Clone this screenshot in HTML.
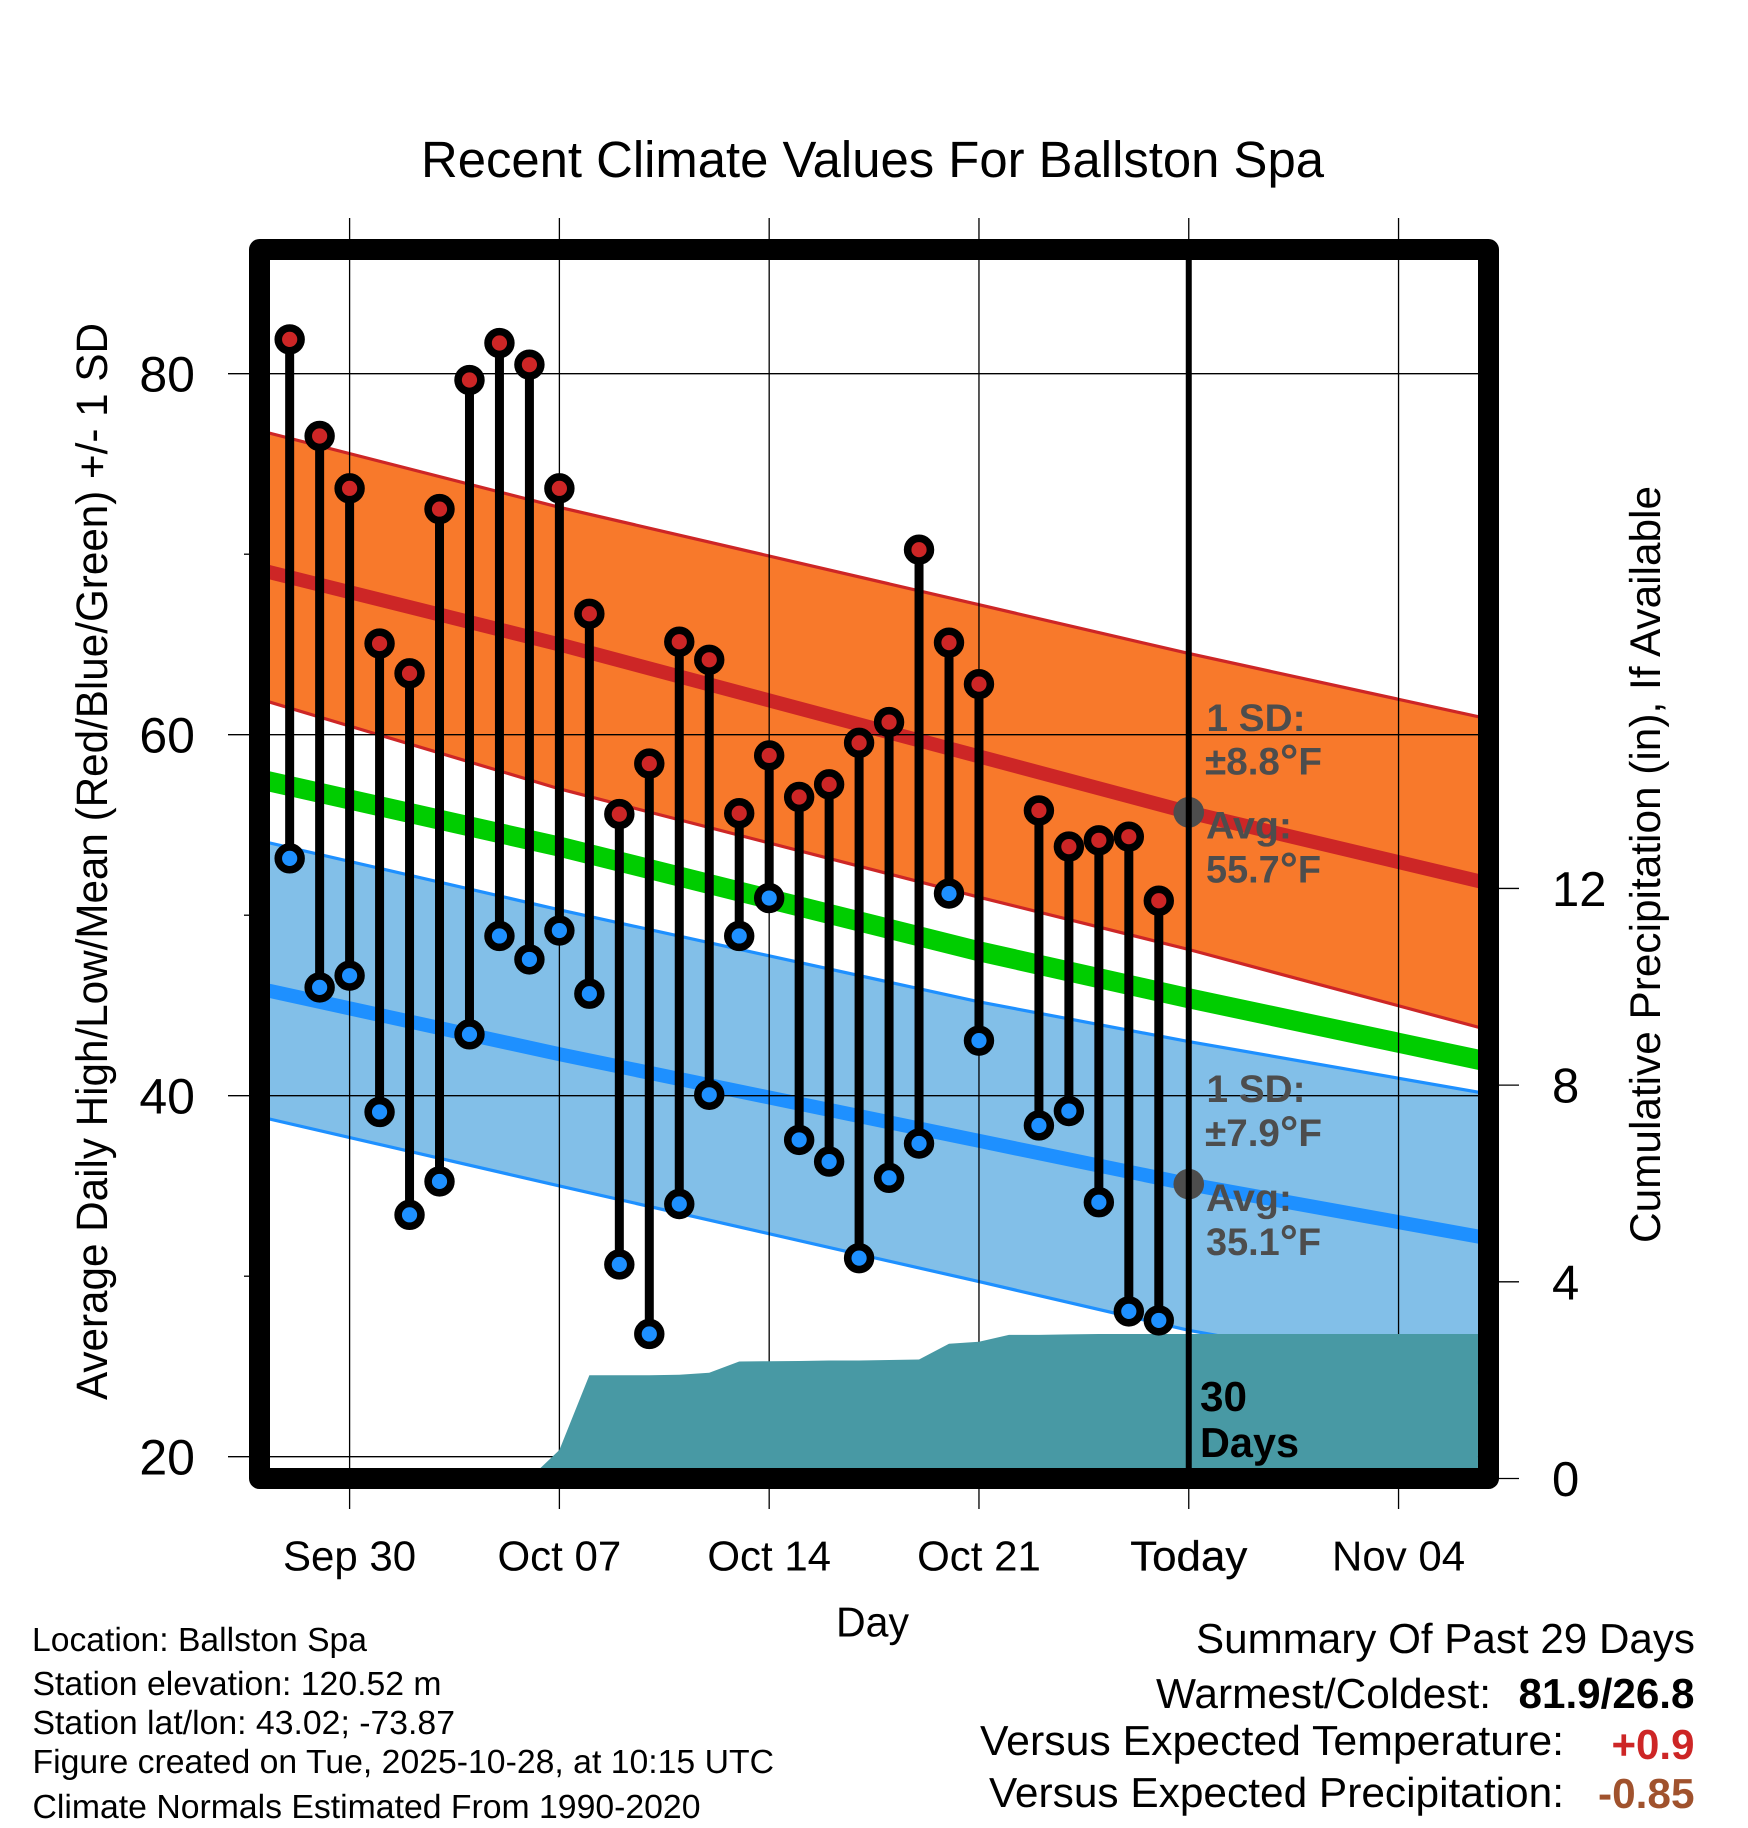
<!DOCTYPE html>
<html lang="en">
<head>
<meta charset="utf-8">
<title>Recent Climate Values For Ballston Spa</title>
<style>
html,body{margin:0;padding:0;background:#fff;width:1748px;height:1828px;overflow:hidden}
svg{display:block}
text{font-family:"Liberation Sans",sans-serif;fill:#000;text-rendering:geometricPrecision}
.ann{font-weight:bold;font-size:38.5px;fill:#4d4d4d}
.foot{font-size:33.5px}
.sum{font-size:42px}
</style>
</head>
<body>
<svg id="chart" xmlns="http://www.w3.org/2000/svg" width="1748" height="1828" viewBox="0 0 1748 1828">
  <defs><clipPath id="plot-clip"><rect x="270" y="260" width="1208" height="1208"/></clipPath></defs>
  <g id="fills" clip-path="url(#plot-clip)"></g>
  <g id="grid"></g>
  <g id="precip" clip-path="url(#plot-clip)"></g>
  <g id="today"></g>
  <g id="marks"></g>
  <rect x="259.5" y="249.5" width="1229" height="1229" fill="none" stroke="#000" stroke-width="21" stroke-linejoin="round"/>
  <g id="labels"></g>

  <text x="421" y="177" font-size="51" textLength="903" lengthAdjust="spacingAndGlyphs">Recent Climate Values For Ballston Spa</text>
  <text transform="translate(107,1400) rotate(-90)" font-size="44" textLength="1077" lengthAdjust="spacingAndGlyphs">Average Daily High/Low/Mean (Red/Blue/Green) +/- 1 SD</text>
  <text transform="translate(1660,1243) rotate(-90)" font-size="43" textLength="757" lengthAdjust="spacingAndGlyphs">Cumulative Precipitation (in), If Available</text>
  <text x="836" y="1636.5" font-size="42" textLength="73" lengthAdjust="spacingAndGlyphs">Day</text>

  <text class="ann" x="1206.5" y="731" textLength="99" lengthAdjust="spacingAndGlyphs">1 SD:</text>
  <text class="ann" x="1205" y="774.5" textLength="117" lengthAdjust="spacingAndGlyphs">±8.8<tspan font-size="46" dy="2">°</tspan><tspan dy="-2">F</tspan></text>
  <text class="ann" x="1206" y="838.5" textLength="86" lengthAdjust="spacingAndGlyphs">Avg:</text>
  <text class="ann" x="1206" y="882.5" textLength="115" lengthAdjust="spacingAndGlyphs">55.7<tspan font-size="46" dy="2">°</tspan><tspan dy="-2">F</tspan></text>
  <text class="ann" x="1206.5" y="1102" textLength="99" lengthAdjust="spacingAndGlyphs">1 SD:</text>
  <text class="ann" x="1205" y="1146" textLength="117" lengthAdjust="spacingAndGlyphs">±7.9<tspan font-size="46" dy="2">°</tspan><tspan dy="-2">F</tspan></text>
  <text class="ann" x="1206" y="1211" textLength="86" lengthAdjust="spacingAndGlyphs">Avg:</text>
  <text class="ann" x="1206" y="1255" textLength="115" lengthAdjust="spacingAndGlyphs">35.1<tspan font-size="46" dy="2">°</tspan><tspan dy="-2">F</tspan></text>
  <text x="1200" y="1411" font-size="42" font-weight="bold" textLength="47" lengthAdjust="spacingAndGlyphs">30</text>
  <text x="1200" y="1457" font-size="42" font-weight="bold" textLength="99" lengthAdjust="spacingAndGlyphs">Days</text>

  <text class="foot" x="32" y="1651" textLength="335" lengthAdjust="spacingAndGlyphs">Location: Ballston Spa</text>
  <text class="foot" x="32.5" y="1695" textLength="409" lengthAdjust="spacingAndGlyphs">Station elevation: 120.52 m</text>
  <text class="foot" x="32.5" y="1734" textLength="422.5" lengthAdjust="spacingAndGlyphs">Station lat/lon: 43.02; -73.87</text>
  <text class="foot" x="32.5" y="1773" textLength="741.5" lengthAdjust="spacingAndGlyphs">Figure created on Tue, 2025-10-28, at 10:15 UTC</text>
  <text class="foot" x="32.5" y="1818" textLength="668" lengthAdjust="spacingAndGlyphs">Climate Normals Estimated From 1990-2020</text>

  <text class="sum" x="1196" y="1653" textLength="499" lengthAdjust="spacingAndGlyphs">Summary Of Past 29 Days</text>
  <text class="sum" x="1156" y="1708" textLength="335" lengthAdjust="spacingAndGlyphs">Warmest/Coldest:</text>
  <text class="sum" x="1518.5" y="1708" font-weight="bold" textLength="176" lengthAdjust="spacingAndGlyphs">81.9/26.8</text>
  <text class="sum" x="980" y="1755" textLength="584" lengthAdjust="spacingAndGlyphs">Versus Expected Temperature:</text>
  <text class="sum" x="1611.5" y="1759" font-weight="bold" style="fill:#cd2626" textLength="83" lengthAdjust="spacingAndGlyphs">+0.9</text>
  <text class="sum" x="989" y="1807" textLength="575" lengthAdjust="spacingAndGlyphs">Versus Expected Precipitation:</text>
  <text class="sum" x="1598" y="1808" font-weight="bold" style="fill:#a0522d" textLength="96.5" lengthAdjust="spacingAndGlyphs">-0.85</text>
</svg>

<script>
// Observed days, index 0 = Sep 28 (index 24 = Oct 22 has no observation)
const dayLabels = ['Sep 28','Sep 29','Sep 30','Oct 01','Oct 02','Oct 03','Oct 04','Oct 05','Oct 06','Oct 07','Oct 08','Oct 09','Oct 10','Oct 11','Oct 12','Oct 13','Oct 14','Oct 15','Oct 16','Oct 17','Oct 18','Oct 19','Oct 20','Oct 21','Oct 22','Oct 23','Oct 24','Oct 25','Oct 26','Oct 27'];
const dailyHigh = [81.9,76.55,73.65,65.05,63.4,72.5,79.65,81.7,80.5,73.65,66.7,55.6,58.4,65.15,64.15,55.65,58.85,56.55,57.25,59.55,60.7,70.25,65.1,62.8,null,55.8,53.8,54.15,54.35,50.8];
const dailyLow = [53.15,46.0,46.65,39.1,33.4,35.25,43.4,48.85,47.55,49.15,45.65,30.65,26.8,34.0,40.05,48.85,50.95,37.55,36.35,31.0,35.45,37.35,51.2,43.05,null,38.35,39.15,34.1,28.05,27.55];
const cumulativePrecip = [0,0,0,0,0,0,0,0,0,0.58,2.10,2.10,2.10,2.11,2.15,2.38,2.385,2.39,2.40,2.40,2.41,2.42,2.74,2.78,2.92,2.92,2.93,2.94,2.94,2.94];

// Climate normals sampled along the day axis
const normalDays = [-0.656,9,23,30,39.65];
const highPlusSd = [76.7,72.6,67.2,64.5,61.0];
const highMean = [69.0,65.0,58.8,55.7,51.9];
const highMinusSd = [61.8,57.0,51.0,48.1,43.8];
const meanNormal = [57.4,53.8,48.0,45.4,42.0];
const lowPlusSd = [54.0,50.3,45.2,43.0,40.2];
const lowMean = [45.8,42.3,37.5,35.1,32.2];
const lowMinusSd = [38.7,35.0,29.7,27.0,24.1];

// Axis ticks
const xTickDays = [2,9,16,23,30,37];
const xTickLabels = ['Sep 30','Oct 07','Oct 14','Oct 21','Today','Nov 04'];
const yMajorTicks = [80,60,40,20];
const yMinorTicks = [70,50,30];
const precipTicks = [12,8,4,0];
const todayDay = 30;
const axisEndDay = 39.65;
const todayHighMean = 55.7;
const todayLowMean = 35.1;

const NS = 'http://www.w3.org/2000/svg';
function xScale(d){ return 349.6 + (d - 2) * 29.97; }
function yTemp(v){ return 1456.7 - (v - 20) * 18.05; }
function yPrecip(p){ return 1478.5 - p * 49.17; }
function make(tag, parent, props){
  const el = document.createElementNS(NS, tag);
  for (const k in props) el.setAttribute(k, props[k]);
  parent.appendChild(el);
  return el;
}
function pts(days, vals){
  return days.map(function(d, i){ return xScale(d).toFixed(2) + ',' + yTemp(vals[i]).toFixed(2); });
}
const fills = document.getElementById('fills');
const grid = document.getElementById('grid');
const precip = document.getElementById('precip');
const today = document.getElementById('today');
const marks = document.getElementById('marks');
const labels = document.getElementById('labels');

// Bands
const highBand = make('polygon', fills, {points: pts(normalDays, highPlusSd).concat(pts(normalDays, highMinusSd).reverse()).join(' '), fill: '#f8792b'});


const lowBand = make('polygon', fills, {points: pts(normalDays, lowPlusSd).concat(pts(normalDays, lowMinusSd).reverse()).join(' '), fill: '#82bfe8'});



function normalLine(vals, color, width){
  return make('polyline', fills, {points: pts(normalDays, vals).join(' '), fill: 'none', stroke: color, 'stroke-width': width, 'stroke-linecap': 'square'});
}
const l1 = normalLine(highPlusSd, '#cd2626', 3.2);


const l2 = normalLine(highMinusSd, '#cd2626', 3.2);


const l3 = normalLine(lowPlusSd, '#1e90ff', 3.2);


const l4 = normalLine(lowMinusSd, '#1e90ff', 3.2);


const l5 = normalLine(highMean, '#cd2626', 14);


const l6 = normalLine(lowMean, '#1e90ff', 14);


const l7 = normalLine(meanNormal, '#00cd00', 20);



// Grid and ticks
xTickDays.forEach(function(d){
  const g = make('line', grid, {x1: xScale(d), x2: xScale(d), y1: 218, y2: 1509, stroke: '#000', 'stroke-width': 1.3});
  
  
});
yMajorTicks.forEach(function(v){
  const g = make('line', grid, {x1: 228, x2: 1478, y1: yTemp(v), y2: yTemp(v), stroke: '#000', 'stroke-width': 1.3});
  
  
});
yMinorTicks.forEach(function(v){
  const g = make('line', grid, {x1: 244, x2: 250, y1: yTemp(v), y2: yTemp(v), stroke: '#000', 'stroke-width': 1.3});
  
  
});
precipTicks.forEach(function(p){
  const g = make('line', grid, {x1: 1498, x2: 1519, y1: yPrecip(p), y2: yPrecip(p), stroke: '#000', 'stroke-width': 1.3});
  
  
});

// Precipitation area (last value held to the end of the axis)
const precipPts = [xScale(0).toFixed(2) + ',' + yPrecip(0).toFixed(2)];
cumulativePrecip.forEach(function(p, i){
  precipPts.push(xScale(i).toFixed(2) + ',' + yPrecip(p).toFixed(2));
});
const lastPrecip = cumulativePrecip[cumulativePrecip.length - 1];
precipPts.push(xScale(axisEndDay).toFixed(2) + ',' + yPrecip(lastPrecip).toFixed(2));
precipPts.push(xScale(axisEndDay).toFixed(2) + ',' + yPrecip(0).toFixed(2));
const area = make('polygon', precip, {points: precipPts.join(' '), fill: '#4899a4'});



// Today marker
const todayDotHigh = make('circle', today, {cx: xScale(todayDay), cy: yTemp(todayHighMean), r: 15.3, fill: '#4d4d4d'});


const todayDotLow = make('circle', today, {cx: xScale(todayDay), cy: yTemp(todayLowMean), r: 15.3, fill: '#4d4d4d'});


const todayLine = make('line', today, {x1: xScale(todayDay), x2: xScale(todayDay), y1: 260, y2: 1468, stroke: '#000', 'stroke-width': 6});



// Daily high/low stems and markers
dayLabels.forEach(function(label, i){
  if (dailyHigh[i] === null || dailyLow[i] === null) return;
  const x = xScale(i);
  const stem = make('line', marks, {x1: x, x2: x, y1: yTemp(dailyHigh[i]), y2: yTemp(dailyLow[i]), stroke: '#000', 'stroke-width': 9});
  
  
});
dayLabels.forEach(function(label, i){
  if (dailyHigh[i] === null || dailyLow[i] === null) return;
  const x = xScale(i);
  const low = make('circle', marks, {cx: x, cy: yTemp(dailyLow[i]), r: 11.4, fill: '#1e90ff', stroke: '#000', 'stroke-width': 7.6});
  
  
  const high = make('circle', marks, {cx: x, cy: yTemp(dailyHigh[i]), r: 11.4, fill: '#cd2626', stroke: '#000', 'stroke-width': 7.6});
  
  
});

// Tick labels
xTickDays.forEach(function(d, i){
  const t = make('text', labels, {x: xScale(d), y: 1570.5, 'font-size': 42, 'text-anchor': 'middle'});
  t.textContent = xTickLabels[i];
  if (xTickLabels[i] === 'Today') {
    t.setAttribute('textLength', '117');
    t.setAttribute('lengthAdjust', 'spacingAndGlyphs');
    t.setAttribute('stroke', '#000');
    t.setAttribute('stroke-width', '0.3');
  }
  
  
});
yMajorTicks.forEach(function(v){
  const t = make('text', labels, {x: 195, y: yTemp(v) + 18, 'font-size': 50, 'text-anchor': 'end'});
  t.textContent = String(v);
  
  
});
precipTicks.forEach(function(p){
  const t = make('text', labels, {x: 1552, y: yPrecip(p) + 17.5, 'font-size': 49});
  t.textContent = String(p);
  
  
});
</script>
</body>
</html>
